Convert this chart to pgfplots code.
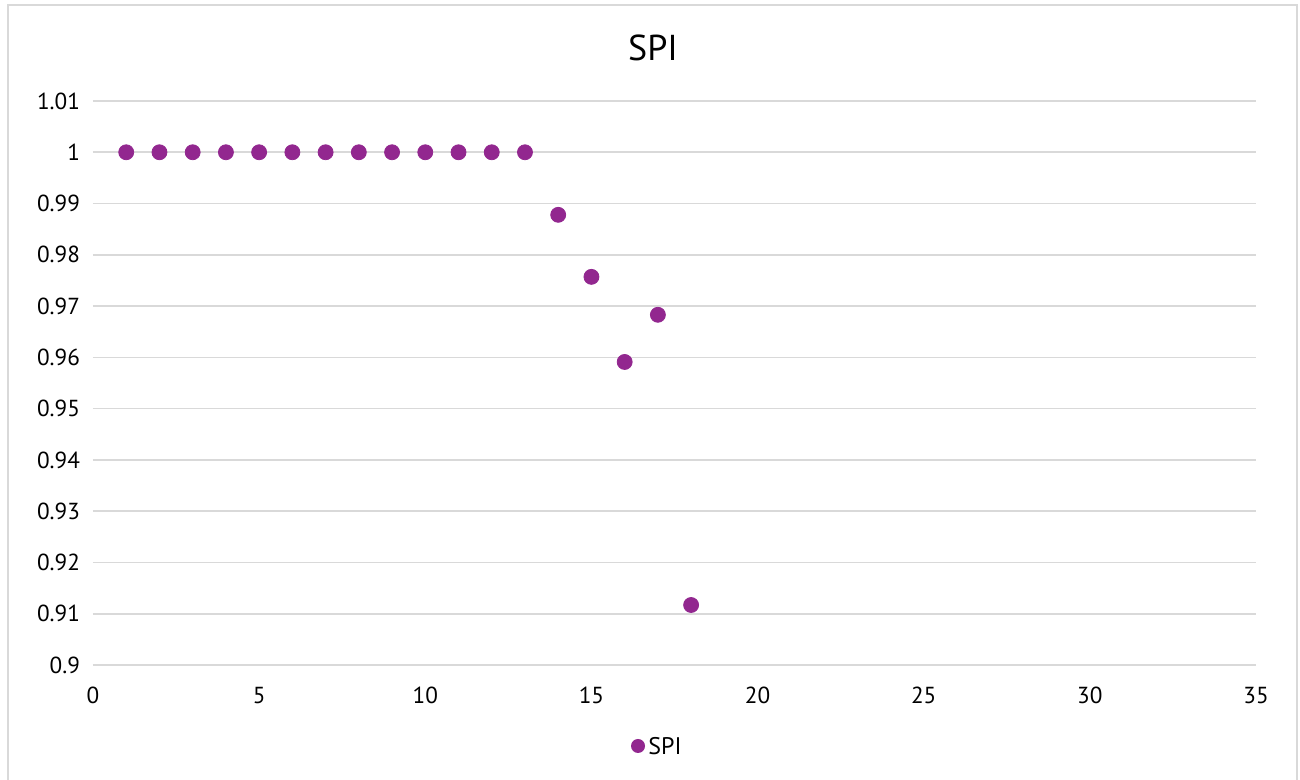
\documentclass[border=0pt]{standalone}
\usepackage{fontspec}
\setmainfont{PT Sans}
\usepackage{pgfplots}
\pgfplotsset{compat=1.18}
\definecolor{mk}{HTML}{92278F}
\definecolor{gridc}{HTML}{D9D9D9}
\begin{document}
\begin{tikzpicture}
\path[use as bounding box] (0,0) rectangle (650pt,390pt);
\draw[gridc, line width=0.8pt] (4pt,0) -- (4pt,387.5pt) -- (648.5pt,387.5pt) -- (648.5pt,0);
\begin{axis}[
  at={(46.5pt,57.5pt)}, anchor=south west,
  scale only axis, width=581.5pt, height=282pt,
  xmin=0, xmax=35, ymin=0.9, ymax=1.01,
  xtick={0,5,...,35},
  ytick={0.9,0.91,...,1.011},
  yticklabels={0.9,0.91,0.92,0.93,0.94,0.95,0.96,0.97,0.98,0.99,1,1.01},
  axis line style={draw=none},
  major tick length=0pt,
  ymajorgrids, grid style={gridc, line width=0.8pt},
  /pgf/number format/assume math mode=true,
  tick label style={font=\fontsize{11.6pt}{13pt}\selectfont, black},
  yticklabel style={xshift=-3pt},
  xticklabel style={yshift=-7.5pt},
  clip=false,
]
\addplot[only marks, mark=*, mark size=3.75pt, mark options={fill=mk, draw=mk}] coordinates {
(1,1) (2,1) (3,1) (4,1) (5,1) (6,1) (7,1) (8,1) (9,1) (10,1) (11,1) (12,1) (13,1)
(14,0.9878) (15,0.9757) (16,0.9591) (17,0.9683) (18,0.9117)
};
\end{axis}
\node[font=\fontsize{18pt}{21pt}\selectfont] at (326.5pt,366pt) {SPI};
\fill[mk] (319pt,17pt) circle (3.5pt);
\node[anchor=west, font=\fontsize{12pt}{14pt}\selectfont, inner sep=0pt] at (324pt,17pt) {SPI};
\end{tikzpicture}
\end{document}
